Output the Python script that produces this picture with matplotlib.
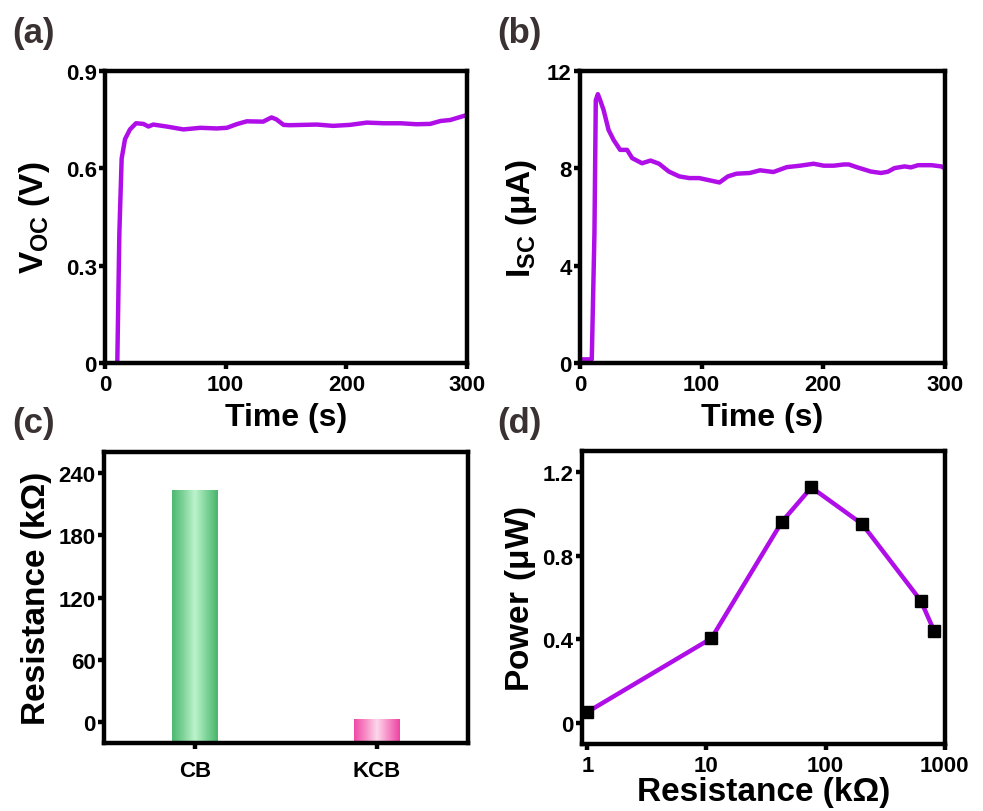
import numpy as np
import matplotlib
matplotlib.use("Agg")
import matplotlib.pyplot as plt
from matplotlib.ticker import FixedLocator, NullLocator, FuncFormatter
from matplotlib.colors import LinearSegmentedColormap

plt.rcParams['font.family'] = ['Liberation Sans', 'DejaVu Sans']
plt.rcParams['font.weight'] = 'bold'
plt.rcParams['mathtext.fontset'] = 'custom'
plt.rcParams['mathtext.rm'] = 'Liberation Sans'
plt.rcParams['mathtext.bf'] = 'Liberation Sans:bold'

# ---------------- data ----------------
# (a) Voc vs time
t_voc = [10.2, 11.9, 13.8, 16.6, 20.7, 25.7, 31.8, 36, 40, 51, 65, 79, 92.6, 101, 109,
         117.5, 131, 138, 142, 148, 153, 175.5, 189, 203, 217, 231, 245, 258, 269.5,
         278, 286, 299.5]
voc = [0.0, 0.40, 0.63, 0.69, 0.72, 0.739, 0.737, 0.729, 0.735, 0.729, 0.720, 0.725,
       0.723, 0.725, 0.736, 0.745, 0.744, 0.757, 0.751, 0.734, 0.733, 0.735, 0.731,
       0.734, 0.741, 0.739, 0.739, 0.736, 0.737, 0.746, 0.749, 0.764]

# (b) Isc vs time
t_isc = [0, 9.7, 11.9, 13, 14.7, 16.6, 19.4, 23.5, 27.6, 33, 38.7, 42.9, 51, 58, 65, 73,
         81.6, 90, 98, 106.4, 114.7, 121.6, 128.6, 139.6, 148, 159, 170, 181, 192,
         200.4, 208.7, 217, 221, 228, 239, 247.4, 253, 258.5, 266.8, 272, 277.9, 289,
         297, 300]
isc = [0.15, 0.15, 5.35, 10.8, 11.05, 10.8, 10.4, 9.58, 9.17, 8.76, 8.76, 8.42, 8.21,
       8.32, 8.19, 7.87, 7.67, 7.60, 7.60, 7.51, 7.42, 7.67, 7.78, 7.81, 7.92, 7.85,
       8.05, 8.11, 8.19, 8.11, 8.11, 8.16, 8.16, 8.04, 7.87, 7.81, 7.86, 8.01, 8.08,
       8.04, 8.13, 8.13, 8.08, 8.0]

# (c) resistance bars
bar_cats = ['CB', 'KCB']
bar_vals = [223, 3]

# (d) power vs load resistance
load_r = [1, 11, 43, 76, 203, 630, 815]
power = [0.053, 0.405, 0.962, 1.126, 0.951, 0.585, 0.441]

# ---------------- style ----------------
PURPLE = '#B00EE8'
LBL = '#3a3232'
TICK_FS = 16
LAB_FS = 23
YLAB_FS = 24
SPW = 3.2

fig = plt.figure(figsize=(9.83, 8.12), dpi=100)

def style(ax):
    for s in ax.spines.values():
        s.set_linewidth(SPW)
    ax.tick_params(direction='out', length=4, width=SPW, labelsize=TICK_FS, pad=2)
    ax.tick_params(axis='x', pad=4)
    for lab in ax.get_xticklabels() + ax.get_yticklabels():
        lab.set_fontweight('bold')

# (a)
axa = fig.add_axes([0.1068, 0.5517, 0.3683, 0.3596])
axa.plot(t_voc, voc, color=PURPLE, lw=3.2)
axa.set_xlim(0, 300)
axa.set_ylim(0, 0.9)
axa.set_xticks([0, 100, 200, 300])
axa.set_yticks([0, 0.3, 0.6, 0.9])
axa.yaxis.set_major_formatter(FuncFormatter(lambda v, p: '0' if v == 0 else f'{v:.1f}'))
axa.set_xlabel('Time (s)', fontsize=LAB_FS, fontweight='bold', labelpad=5)
axa.set_ylabel(r'$\mathbf{V}_{\mathrm{OC}}$ $\mathbf{(V)}$', fontsize=YLAB_FS, labelpad=10)
style(axa)

# (b)
axb = fig.add_axes([0.590, 0.5517, 0.3713, 0.3596])
axb.plot(t_isc, isc, color=PURPLE, lw=3.2)
axb.set_xlim(0, 300)
axb.set_ylim(0, 12)
axb.set_xticks([0, 100, 200, 300])
axb.set_yticks([0, 4, 8, 12])
axb.set_xlabel('Time (s)', fontsize=LAB_FS, fontweight='bold', labelpad=5)
axb.set_ylabel(r'$\mathbf{I}_{\mathrm{SC}}$ $\mathbf{(\mu A)}$', fontsize=YLAB_FS, labelpad=6)
style(axb)

# (c)
axc = fig.add_axes([0.1058, 0.0837, 0.370, 0.3584])
ylo = -20
green = LinearSegmentedColormap.from_list('g', ['#4cb870', '#7fd49a', '#bdf3cc', '#7fd49a', '#48b46a'])
pink = LinearSegmentedColormap.from_list('p', ['#f04aa6', '#f78cc6', '#fcd8ec', '#f78cc6', '#ee42a2'])
grad = np.linspace(0, 1, 256).reshape(1, -1)
bw = 0.25
for i, (cat, v) in enumerate(zip(bar_cats, bar_vals)):
    cm = green if i == 0 else pink
    bars = axc.bar(i, v - ylo, bottom=ylo, width=bw, color='none', edgecolor='none')
    rect = bars[0]
    im = axc.imshow(grad, cmap=cm, aspect='auto',
                    extent=[i - bw / 2, i + bw / 2, ylo, v], zorder=2)
    im.set_clip_path(rect)
axc.set_aspect('auto')
axc.set_xlim(-0.5, 1.5)
axc.set_ylim(ylo, 260)
axc.set_xticks([0, 1])
axc.set_xticklabels(bar_cats)
axc.set_yticks([0, 60, 120, 180, 240])
axc.set_ylabel('Resistance (kΩ)', fontsize=YLAB_FS, fontweight='bold', labelpad=5)
style(axc)
axc.tick_params(axis='x', pad=8)

# (d)
axd = fig.add_axes([0.592, 0.0825, 0.369, 0.3608])
axd.plot(load_r, power, color=PURPLE, lw=3.2, marker='s', ms=8,
         mfc='black', mec='black', zorder=3)
axd.set_xscale('log')
axd.set_xlim(0.9, 1000)
axd.set_ylim(-0.1, 1.3)
axd.xaxis.set_major_locator(FixedLocator([1, 10, 100, 1000]))
axd.xaxis.set_minor_locator(NullLocator())
axd.xaxis.set_major_formatter(FuncFormatter(lambda v, p: f'{int(round(v))}'))
axd.set_yticks([0, 0.4, 0.8, 1.2])
axd.yaxis.set_major_formatter(FuncFormatter(lambda v, p: '0' if abs(v) < 1e-9 else f'{v:.1f}'))
axd.set_xlabel('Resistance (kΩ)', fontsize=YLAB_FS, fontweight='bold', labelpad=0)
axd.set_ylabel(r'$\mathbf{Power\ (\mu W)}$', fontsize=YLAB_FS, labelpad=3)
style(axd)

# panel labels
for txt, x, y in [('(a)', 12, 43), ('(b)', 497, 43), ('(c)', 12, 433), ('(d)', 497, 433)]:
    fig.text(x / 983, 1 - y / 812, txt, fontsize=25, fontweight='bold', color=LBL,
             ha='left', va='baseline')

fig.savefig('out.png', dpi=100)
